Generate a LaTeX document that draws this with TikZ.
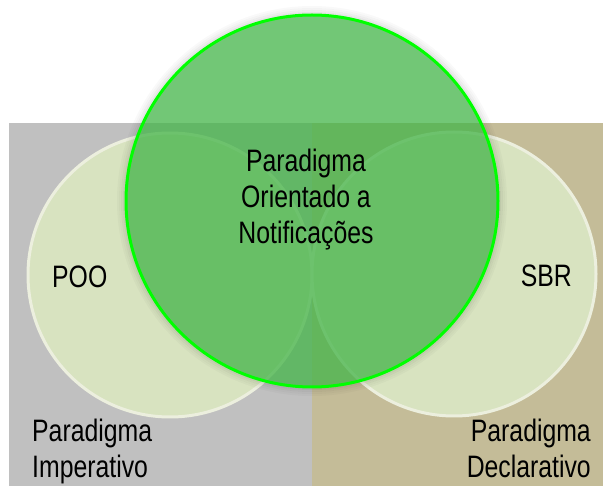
\documentclass[tikz,border=0pt]{standalone}
\usepackage{fontspec}
\setmainfont{Liberation Sans}[FakeStretch=0.8]
\definecolor{bggray}{RGB}{192,192,192}
\definecolor{bgtan}{RGB}{196,188,152}
\definecolor{lightfill}{RGB}{216,227,192}
\definecolor{lightrim}{RGB}{236,239,222}
\definecolor{greenfill}{RGB}{67,180,72}
\definecolor{greenrim}{RGB}{0,255,0}
\begin{document}
\begin{tikzpicture}[x=1pt,y=-1pt,
  lbl/.style={font=\fontsize{31}{36}\selectfont, inner sep=0pt, text=black},
  setcircle/.style={circle, minimum size=284pt, inner sep=0pt, fill=lightfill, draw=lightrim, line width=3pt},
  mainset/.style={circle, minimum size=372pt, inner sep=0pt, fill=greenfill, fill opacity=0.75, draw=greenrim, draw opacity=1, line width=3pt}]
\useasboundingbox (0,0) rectangle (603,486);
\fill[bggray] (9,123) rectangle (312,486);
\fill[bgtan] (312,123) rectangle (603,486);
\node[setcircle] (poo) at (170,275) {};
\node[setcircle] (sbr) at (454,274) {};
\foreach \r/\o in {188/0.10,190/0.07,192/0.045,194/0.025}
  \draw[black, opacity=\o, line width=2pt] (312,201) circle[radius=\r pt];
\node[mainset] (pon) at (312,201) {};
\node[lbl, anchor=base, align=center] (ponlbl) at (306,244) {Paradigma\\Orientado a\\Notificações};
\node[lbl, anchor=base west] (poolbl) at (52,288) {POO};
\node[lbl, anchor=base east] (sbrlbl) at (572,287) {SBR};
\node[lbl, anchor=base west, align=left] (implbl) at (32,478) {Paradigma\\Imperativo};
\node[lbl, anchor=base east, align=right] (declbl) at (591,478) {Paradigma\\Declarativo};
\end{tikzpicture}
\end{document}
